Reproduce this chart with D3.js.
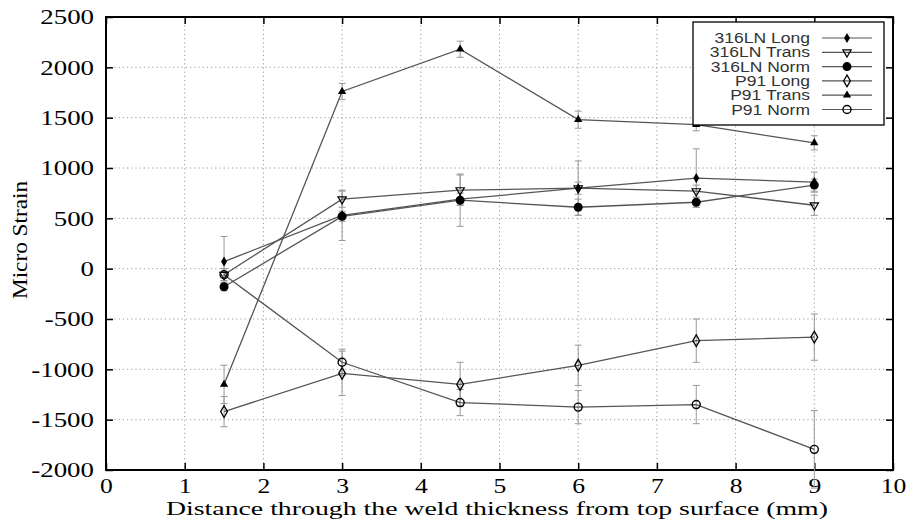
<!DOCTYPE html>
<html><head><meta charset="utf-8">
<script src="https://cdn.jsdelivr.net/npm/d3@7"></script>
<style>body{margin:0;background:#fff}svg{display:block}</style>
</head><body>
<svg id="c" width="913" height="522"></svg>
<script>
const positions = [1.5, 3, 4.5, 6, 7.5, 9];
const seriesNames = ["316LN Long", "316LN Trans", "316LN Norm", "P91 Long", "P91 Trans", "P91 Norm"];
const ln316Long   = [70, 530, 690, 800, 900, 860];
const ln316Trans  = [-60, 690, 780, 800, 770, 630];
const ln316Norm   = [-180, 520, 680, 610, 660, 830];
const p91Long     = [-1420, -1040, -1150, -960, -715, -680];
const p91Trans    = [-1150, 1760, 2180, 1480, 1430, 1250];
const p91Norm     = [-60, -930, -1330, -1375, -1350, -1795];
const ln316LongErr  = [250, 250, 60, 270, 290, 100];
const ln316TransErr = [60, 80, 150, 60, 60, 100];
const ln316NormErr  = [40, 50, 260, 80, 50, 60];
const p91LongErr    = [150, 220, 220, 200, 215, 230];
const p91TransErr   = [190, 80, 80, 85, 60, 70];
const p91NormErr    = [60, 130, 130, 165, 190, 385];
const xTicks = [0,1,2,3,4,5,6,7,8,9,10];
const yTicks = [-2000,-1500,-1000,-500,0,500,1000,1500,2000,2500];

const series = [
  {name: seriesNames[0], v: ln316Long, e: ln316LongErr, m: "diamondS"},
  {name: seriesNames[1], v: ln316Trans, e: ln316TransErr, m: "tridown"},
  {name: seriesNames[2], v: ln316Norm, e: ln316NormErr, m: "circleF"},
  {name: seriesNames[3], v: p91Long, e: p91LongErr, m: "diamondO"},
  {name: seriesNames[4], v: p91Trans, e: p91TransErr, m: "triF"},
  {name: seriesNames[5], v: p91Norm, e: p91NormErr, m: "circleO"}
];

const L = 106, R = 893, T = 17, B = 470;
const SERIF = "Liberation Serif";
const SANS = "Liberation Sans";
const svg = d3.select("#c");
const x = d3.scaleLinear().domain([0, 10]).range([L, R]);
const y = d3.scaleLinear().domain([-2000, 2500]).range([B, T]);
const STRETCH = 1.28;

// grid
const g = svg.append("g");
g.selectAll("line.vg").data(xTicks.slice(1, -1)).join("line")
  .attr("x1", d => x(d)).attr("x2", d => x(d)).attr("y1", T).attr("y2", B)
  .attr("stroke", "#9a9a9a").attr("stroke-width", 1).attr("stroke-dasharray", "1.2,3");
g.selectAll("line.hg").data(yTicks.slice(1, -1)).join("line")
  .attr("y1", d => y(d)).attr("y2", d => y(d)).attr("x1", L).attr("x2", R)
  .attr("stroke", "#9a9a9a").attr("stroke-width", 1).attr("stroke-dasharray", "1.2,3");

function stretchTexts(sel, f) {
  sel.each(function() {
    const len = this.getComputedTextLength();
    d3.select(this).attr("textLength", len * f).attr("lengthAdjust", "spacingAndGlyphs");
  });
}

// axes
const axB = svg.append("g").attr("transform", `translate(0,${B})`)
  .call(d3.axisBottom(x).tickValues(xTicks).tickSize(-7).tickPadding(10).tickSizeOuter(0).tickFormat(d => String(d)));
const axL = svg.append("g").attr("transform", `translate(${L},0)`)
  .call(d3.axisLeft(y).tickValues(yTicks).tickSize(-7).tickPadding(12).tickSizeOuter(0).tickFormat(d => String(d)));
const axT = svg.append("g").attr("transform", `translate(0,${T})`)
  .call(d3.axisTop(x).tickValues(xTicks).tickSize(-7).tickFormat("").tickSizeOuter(0));
const axR = svg.append("g").attr("transform", `translate(${R},0)`)
  .call(d3.axisRight(y).tickValues(yTicks).tickSize(-7).tickFormat("").tickSizeOuter(0));
[axB, axL, axT, axR].forEach(a => {
  a.select(".domain").remove();
  a.selectAll(".tick line").attr("stroke", "#000").attr("stroke-width", 1.5);
  a.selectAll(".tick text").attr("font-family", SERIF).attr("font-size", 21).attr("fill", "#000");
});
axB.selectAll(".tick text").attr("font-size", 20).attr("dy", null).attr("y", 23);
axL.selectAll(".tick text").attr("x", -12);
stretchTexts(axB.selectAll(".tick text"), STRETCH);
stretchTexts(axL.selectAll(".tick text"), STRETCH);

// frame
svg.append("rect").attr("x", L).attr("y", T).attr("width", R - L).attr("height", B - T)
  .attr("fill", "none").attr("stroke", "#000").attr("stroke-width", 2);

// axis titles
svg.append("text").attr("x", 497).attr("y", 515).attr("text-anchor", "middle")
  .attr("font-family", SERIF).attr("font-size", 19)
  .attr("textLength", 662).attr("lengthAdjust", "spacingAndGlyphs")
  .text("Distance through the weld thickness from top surface (mm)");
svg.append("text").attr("transform", "translate(27,240) rotate(-90)").attr("text-anchor", "middle")
  .attr("font-family", SERIF).attr("font-size", 22)
  .attr("textLength", 118).attr("lengthAdjust", "spacingAndGlyphs")
  .text("Micro Strain");

// markers
function drawMarker(sel, type, cx, cy) {
  const s = d3.symbol();
  if (type === "diamondS") sel.append("path").attr("d", s.type(d3.symbolDiamond).size(30)())
    .attr("transform", `translate(${cx},${cy})`).attr("fill", "#000");
  else if (type === "tridown") sel.append("path").attr("d", s.type(d3.symbolTriangle).size(30)())
    .attr("transform", `translate(${cx},${cy}) rotate(180)`).attr("fill", "none").attr("stroke", "#000").attr("stroke-width", 1.2);
  else if (type === "circleF") sel.append("circle").attr("cx", cx).attr("cy", cy).attr("r", 4.5).attr("fill", "#000");
  else if (type === "diamondO") sel.append("path").attr("d", s.type(d3.symbolDiamond).size(40)())
    .attr("transform", `translate(${cx},${cy})`).attr("fill", "none").attr("stroke", "#000").attr("stroke-width", 1.3);
  else if (type === "triF") sel.append("path").attr("d", s.type(d3.symbolTriangle).size(30)())
    .attr("transform", `translate(${cx},${cy})`).attr("fill", "#000");
  else if (type === "circleO") sel.append("circle").attr("cx", cx).attr("cy", cy).attr("r", 4)
    .attr("fill", "none").attr("stroke", "#000").attr("stroke-width", 1.4);
}

const line = d3.line().x(d => x(d[0])).y(d => y(d[1]));
const plot = svg.append("g");
series.forEach(s => {
  const pts = positions.map((p, i) => [p, s.v[i], s.e[i]]);
  pts.forEach(p => {
    const eg = plot.append("g").attr("stroke", "#999").attr("stroke-width", 1);
    eg.append("line").attr("x1", x(p[0])).attr("x2", x(p[0])).attr("y1", y(p[1] - p[2])).attr("y2", y(p[1] + p[2]));
    eg.append("line").attr("x1", x(p[0]) - 3.5).attr("x2", x(p[0]) + 3.5).attr("y1", y(p[1] - p[2])).attr("y2", y(p[1] - p[2]));
    eg.append("line").attr("x1", x(p[0]) - 3.5).attr("x2", x(p[0]) + 3.5).attr("y1", y(p[1] + p[2])).attr("y2", y(p[1] + p[2]));
  });
  plot.append("path").attr("d", line(pts)).attr("fill", "none").attr("stroke", "#555").attr("stroke-width", 1.3);
});
series.forEach(s => {
  positions.forEach((p, i) => drawMarker(plot, s.m, x(p), y(s.v[i])));
});

// legend
const lg = svg.append("g");
lg.append("rect").attr("x", 693).attr("y", 22).attr("width", 191).attr("height", 103)
  .attr("fill", "#fff").attr("stroke", "#000").attr("stroke-width", 1.3);
series.forEach((s, i) => {
  const ry = 38 + i * 14.3;
  const t = lg.append("text").attr("x", 810).attr("y", ry + 5).attr("text-anchor", "end")
    .attr("font-family", SANS).attr("font-size", 14).attr("fill", "#333")
    .text(s.name);
  stretchTexts(t, 1.25);
  lg.append("line").attr("x1", 822).attr("x2", 872).attr("y1", ry).attr("y2", ry).attr("stroke", "#555").attr("stroke-width", 1.2);
  drawMarker(lg, s.m, 847, ry);
});
</script>
</body></html>
